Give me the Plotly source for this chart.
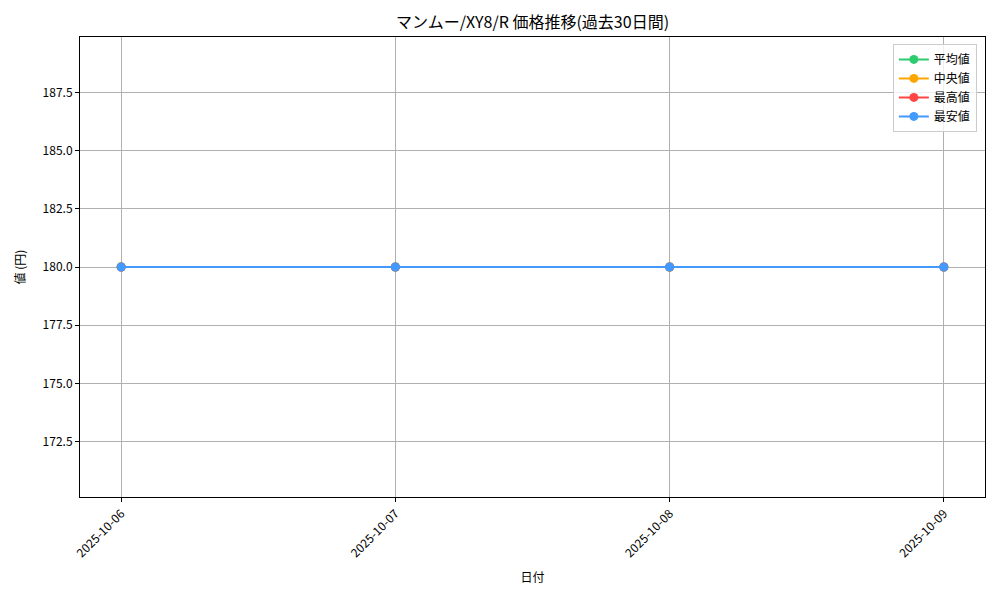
import plotly.graph_objects as go

dates = ["2025-10-06", "2025-10-07", "2025-10-08", "2025-10-09"]
avg_vals = [180, 180, 180, 180]
median_vals = [180, 180, 180, 180]
max_vals = [180, 180, 180, 180]
min_vals = [180, 180, 180, 180]
series_names = ["平均値", "中央値", "最高値", "最安値"]
colors = ["#2ecc71", "#ffa500", "#ff4444", "#4499ff"]
y_ticks = [172.5, 175.0, 177.5, 180.0, 182.5, 185.0, 187.5]

FONT = "Noto Sans CJK JP, IPAGothic, sans-serif"

fig = go.Figure()
for name, vals, c in zip(series_names, [avg_vals, median_vals, max_vals, min_vals], colors):
    fig.add_trace(go.Scatter(
        x=dates, y=vals, name=name, mode="lines+markers",
        line=dict(color=c, width=2), marker=dict(color=c, size=9),
    ))

fig.update_layout(
    width=1000, height=600,
    paper_bgcolor="white", plot_bgcolor="white",
    margin=dict(l=72, r=23, t=29, b=111, autoexpand=False),
    font=dict(family=FONT, size=12, color="black"),
    title=dict(text="マンムー/XY8/R 価格推移(過去30日間)", x=0.5, xref="paper", xanchor="center",
               y=1 - 14 / 600, yanchor="middle", font=dict(size=16)),
    legend=dict(x=0.991, y=0.985, xanchor="right", yanchor="top",
                bgcolor="rgba(255,255,255,0.8)", bordercolor="#cccccc", borderwidth=1,
                font=dict(size=12), tracegroupgap=0, itemwidth=30),
    showlegend=True,
)
fig.update_xaxes(
    type="date",
    range=["2025-10-05 20:24", "2025-10-09 03:36"],
    tickvals=dates, ticktext=dates, tickangle=-45,
    showgrid=True, gridcolor="#b0b0b0", gridwidth=1,
    showline=True, linecolor="black", linewidth=1, mirror=True,
    ticks="outside", ticklen=4, tickcolor="black",
    title=dict(text="日付", font=dict(size=12), standoff=14),
    zeroline=False,
)
fig.update_yaxes(
    range=[170.125, 189.875],
    tickvals=y_ticks, ticktext=[f"{v:.1f}" for v in y_ticks],
    showgrid=True, gridcolor="#b0b0b0", gridwidth=1,
    showline=True, linecolor="black", linewidth=1, mirror=True,
    ticks="outside", ticklen=4, tickcolor="black",
    title=dict(text="値 (円)", font=dict(size=12), standoff=14),
    zeroline=False,
)

fig.write_html("out.html")
